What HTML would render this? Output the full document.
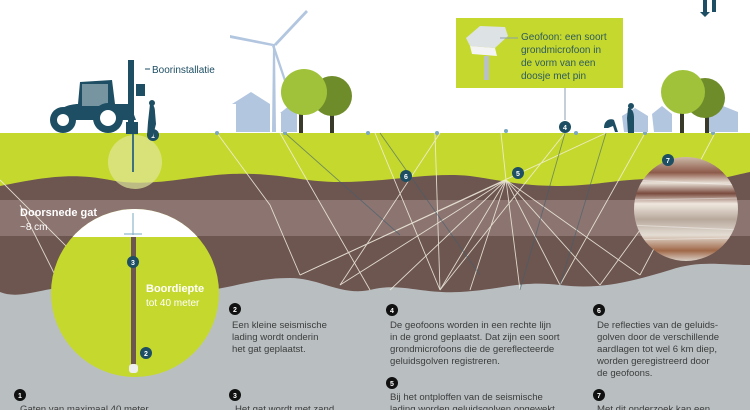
<!DOCTYPE html>
<html><head><meta charset="utf-8"><style>
body{margin:0;width:750px;height:410px;overflow:hidden;background:#fff;font-family:"Liberation Sans",sans-serif}
svg{display:block}
</style></head><body>
<svg width="750" height="410" viewBox="0 0 750 410" xmlns="http://www.w3.org/2000/svg" font-family="Liberation Sans, sans-serif">
<defs>
<clipPath id="bc"><circle cx="135" cy="293" r="84"/></clipPath>
<clipPath id="pc"><circle cx="686" cy="209" r="52"/></clipPath>
<linearGradient id="st" x1="0" y1="0" x2="0" y2="1">
<stop offset="0" stop-color="#cdb9a8"/><stop offset="0.15" stop-color="#8d5a4a"/><stop offset="0.25" stop-color="#e8e0d6"/><stop offset="0.35" stop-color="#7a4b3e"/><stop offset="0.45" stop-color="#efe8df"/><stop offset="0.6" stop-color="#b8a89c"/><stop offset="0.75" stop-color="#e4ddd4"/><stop offset="0.9" stop-color="#a06848"/><stop offset="1" stop-color="#d9d0c6"/>
</linearGradient>
</defs>
<!-- gray ground -->
<rect x="0" y="230" width="750" height="180" fill="#b9bfc1"/>
<!-- green -->
<rect x="0" y="133" width="750" height="70" fill="#c5d82e"/>
<!-- brown layers -->
<path d="M0 186 C40 178 70 172 110 180 C150 188 190 176 230 174 C280 172 300 182 340 182 C390 182 430 172 470 176 C500 180 520 186 560 186 C600 186 630 176 670 180 C710 184 730 176 750 172 L750 265 C720 265 700 260 670 270 C630 282 600 290 560 285 C520 280 500 290 460 292 C420 294 400 282 370 290 C340 296 320 278 290 278 C250 278 230 290 190 292 C150 294 120 282 80 285 C40 288 20 300 0 292 Z" fill="#6d5550"/>
<rect x="0" y="200" width="750" height="36" fill="#8f7873" opacity="0.9"/>
<path d="M0 236 L750 236" stroke="#7a625c" stroke-width="0"/>
<!-- drill glow -->
<circle cx="135" cy="162" r="27" fill="#dfe79a" opacity="0.7"/>
<line x1="133" y1="130" x2="133" y2="172" stroke="#3f7080" stroke-width="2"/>
<!-- seismic lines -->
<g stroke="#f3f0e0" stroke-width="0.9" fill="none" opacity="0.85">
<path d="M506 180 L440 290 M506 180 L390 290 M506 180 L340 285 M506 180 L300 275 M506 180 L470 290 M506 180 L520 290 M506 180 L560 285 M506 180 L600 285 M506 180 L640 275 M506 180 L501 133"/>
<path d="M217 133 L270 205 L300 275 M375 133 L440 290 M435 133 L440 290 M440 290 L565 133 M300 275 L606 133 M340 285 L440 133 M560 285 L645 133 M640 275 L715 133 M20 205 L60 285 M0 180 L110 290 M280 133 L370 290 M600 285 L680 175"/>
</g>
<g stroke="#3f6070" stroke-width="0.9" opacity="0.6">
<path d="M285 133 L400 235 M380 133 L480 275 M565 133 L520 290 M606 133 L560 285"/>
</g>
<!-- geophones -->
<g fill="#7aa7c2"><circle cx="217" cy="133" r="2"/><circle cx="285" cy="133" r="2"/><circle cx="368" cy="133" r="2"/><circle cx="437" cy="133" r="2"/><circle cx="506" cy="131" r="2"/><circle cx="576" cy="133" r="2"/><circle cx="645" cy="133" r="2"/><circle cx="713" cy="133" r="2"/></g>
<!-- big circle -->
<circle cx="135" cy="293" r="84" fill="#c5d82e"/>
<g clip-path="url(#bc)"><rect x="40" y="200" width="200" height="37" fill="#fff"/></g>
<line x1="133" y1="213" x2="133" y2="235" stroke="#7aa7c2"/>
<line x1="124" y1="234" x2="142" y2="234" stroke="#7aa7c2"/>
<rect x="131" y="237" width="5" height="128" fill="#6d5550"/>
<rect x="129" y="364" width="9" height="9" rx="3" fill="#eee"/>
<text x="20" y="216" font-size="11" font-weight="bold" fill="#fff">Doorsnede gat</text>
<text x="20" y="230" font-size="10" fill="#fff">~8 cm</text>
<text x="146" y="292" font-size="11" font-weight="bold" fill="#fff">Boordiepte</text>
<text x="146" y="306" font-size="10" fill="#fff">tot 40 meter</text>
<!-- photo circle -->
<circle cx="686" cy="209" r="52" fill="url(#st)"/>
<g clip-path="url(#pc)" stroke="#fff" stroke-width="1" opacity="0.4"><path d="M630 180 L740 185 M630 200 L740 198 M630 225 L740 230 M630 240 L740 238"/></g>
<!-- badges -->
<g font-size="7" font-weight="bold" fill="#fff" text-anchor="middle">
<circle cx="153" cy="135" r="6" fill="#1d4e63"/><text x="153" y="138">1</text>
<circle cx="133" cy="262" r="6" fill="#1d4e63"/><text x="133" y="265">3</text>
<circle cx="146" cy="353" r="6" fill="#1d4e63"/><text x="146" y="356">2</text>
<circle cx="406" cy="176" r="6" fill="#1d4e63"/><text x="406" y="179">6</text>
<circle cx="518" cy="173" r="6" fill="#1d4e63"/><text x="518" y="176">5</text>
<circle cx="668" cy="160" r="6" fill="#1d4e63"/><text x="668" y="163">7</text>
<circle cx="565" cy="127" r="6" fill="#1d4e63"/><text x="565" y="130">4</text>
</g>
<g font-size="7" font-weight="bold" fill="#fff" text-anchor="middle">
<circle cx="235" cy="309" r="6" fill="#111"/><text x="235" y="312">2</text>
<circle cx="20" cy="395" r="6" fill="#111"/><text x="20" y="398">1</text>
<circle cx="235" cy="395" r="6" fill="#111"/><text x="235" y="398">3</text>
<circle cx="392" cy="310" r="6" fill="#111"/><text x="392" y="313">4</text>
<circle cx="392" cy="383" r="6" fill="#111"/><text x="392" y="386">5</text>
<circle cx="599" cy="310" r="6" fill="#111"/><text x="599" y="313">6</text>
<circle cx="599" cy="395" r="6" fill="#111"/><text x="599" y="398">7</text>
</g>
<g font-size="9.6" fill="#3c3c3c">
<text x="232" y="328">Een kleine seismische</text><text x="232" y="340">lading wordt onderin</text><text x="232" y="352">het gat geplaatst.</text>
<text x="20" y="412">Gaten van maximaal 40 meter</text>
<text x="235" y="412">Het gat wordt met zand</text>
<text x="390" y="328">De geofoons worden in een rechte lijn</text><text x="390" y="340">in de grond geplaatst. Dat zijn een soort</text><text x="390" y="352">grondmicrofoons die de gereflecteerde</text><text x="390" y="364">geluidsgolven registreren.</text>
<text x="390" y="400">Bij het ontploffen van de seismische</text><text x="390" y="412">lading worden geluidsgolven opgewekt</text>
<text x="597" y="328">De reflecties van de geluids-</text><text x="597" y="340">golven door de verschillende</text><text x="597" y="352">aardlagen tot wel 6 km diep,</text><text x="597" y="364">worden geregistreerd door</text><text x="597" y="376">de geofoons.</text>
<text x="597" y="412">Met dit onderzoek kan een</text>
</g>
<!-- wind turbine -->
<g fill="#b3c6e0">
<polygon points="272,132 276,132 275,44 273,44"/>
<polygon points="274,44 306,10 308,12 276,46"/>
<polygon points="274,44 230,35 230,38 272,46"/>
<polygon points="274,44 286,80 284,81 272,46"/>
<polygon points="232,104 251,92 270,104 270,132 236,132 236,104"/>
<rect x="281" y="112" width="16" height="20"/><polygon points="280,113 289,106 298,113"/>
<polygon points="622,116 635,108 648,116 648,132 624,132"/>
<polygon points="652,114 662,106 672,114 672,132 654,132"/>
<polygon points="705,112 718,104 738,112 738,132 708,132"/>
</g>
<!-- trees -->
<g>
<rect x="299" y="108" width="4" height="25" fill="#3a3a2a"/><rect x="330" y="108" width="4" height="25" fill="#3a3a2a"/>
<circle cx="332" cy="96" r="20" fill="#6f8c2a"/><circle cx="304" cy="92" r="23" fill="#9fc23a"/>
<rect x="680" y="110" width="4" height="23" fill="#3a3a2a"/><rect x="705" y="110" width="4" height="23" fill="#3a3a2a"/>
<circle cx="705" cy="98" r="20" fill="#6f8c2a"/><circle cx="683" cy="92" r="22" fill="#9fc23a"/>
</g>
<!-- tractor -->
<g fill="#1d4e63">
<path d="M55 120 C55 108 70 104 78 104 L80 82 L112 80 L115 104 L130 104 L136 120 Z"/>
<rect x="82" y="84" width="26" height="22" fill="#fff" opacity="0.4"/>
<circle cx="63" cy="120" r="13"/><circle cx="63" cy="120" r="6" fill="#fff"/>
<circle cx="108" cy="118" r="15"/><circle cx="108" cy="118" r="8" fill="#fff"/>
<rect x="128" y="60" width="6" height="73"/><rect x="136" y="84" width="9" height="12"/><rect x="126" y="122" width="12" height="12"/>
<path d="M150 104 c4 0 5 4 5 8 l1 12 l-3 12 l-6 0 l1-14 z"/>
<circle cx="152" cy="103" r="3"/>
<path d="M604 128 c0-8 6-10 10-8 l4 12 l-3 0 l-2-6 l-5 2 z"/>
<path d="M628 108 c4 0 6 4 6 10 l0 15 l-6 0 l-1-15 z"/><circle cx="631" cy="106" r="3"/>
<path d="M703 0 v12 h-3 l5 5 l5 -5 h-3 v-12 z M712 0 v12 h4 v-12z"/>
</g>
<line x1="145" y1="69" x2="150" y2="69" stroke="#1d4e63"/>
<text x="152" y="73" font-size="10" fill="#1d4e63">Boorinstallatie</text>
<!-- geofoon box -->
<rect x="456" y="18" width="167" height="70" fill="#c5d82e"/>
<line x1="565" y1="88" x2="565" y2="120" stroke="#8aa0ac"/>
<path d="M466 38 L480 26 L505 27 L508 36 L495 48 L470 46 Z" fill="#dde2e4"/>
<path d="M470 46 L495 48 L497 56 L472 54 Z" fill="#f4f4f4"/>
<rect x="484" y="56" width="5" height="24" fill="#b9c1c4"/>
<line x1="500" y1="38" x2="518" y2="38" stroke="#8aa0ac"/>
<g font-size="10" fill="#2d5b5f"><text x="521" y="40">Geofoon: een soort</text><text x="521" y="53">grondmicrofoon in</text><text x="521" y="66">de vorm van een</text><text x="521" y="79">doosje met pin</text></g>
</svg>
</body></html>
